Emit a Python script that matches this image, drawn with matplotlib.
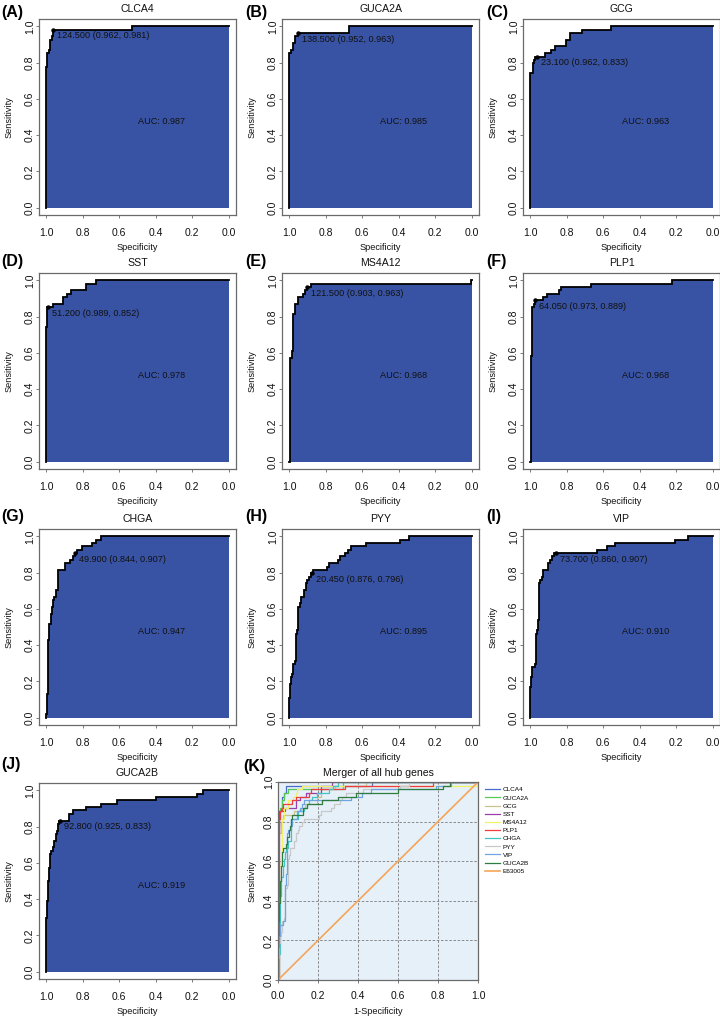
import numpy as np
import matplotlib
matplotlib.use("Agg")
from matplotlib import pyplot as plt

plt.rcParams['font.family'] = ['Liberation Sans', 'DejaVu Sans']

W, H = 720, 1017

genes = ['CLCA4', 'GUCA2A', 'GCG', 'SST', 'MS4A12', 'PLP1', 'CHGA', 'PYY', 'VIP', 'GUCA2B']
letters = ['(A)', '(B)', '(C)', '(D)', '(E)', '(F)', '(G)', '(H)', '(I)', '(J)']
auc = [0.987, 0.985, 0.963, 0.978, 0.968, 0.968, 0.947, 0.895, 0.910, 0.919]
thres = ['124.500', '138.500', '23.100', '51.200', '121.500', '64.050', '49.900', '20.450', '73.700', '92.800']
thres_spec = [0.962, 0.952, 0.962, 0.989, 0.903, 0.973, 0.844, 0.876, 0.860, 0.925]
thres_sens = [0.981, 0.963, 0.833, 0.852, 0.963, 0.889, 0.907, 0.796, 0.907, 0.833]

# ROC curves: at each specificity the curve rises to the given sensitivity
clca4_spec = [1.0, 0.995, 0.985, 0.978, 0.970, 0.962, 0.528]
clca4_sens = [0.778, 0.852, 0.870, 0.926, 0.944, 0.981, 1.0]
guca2a_spec = [1.0, 0.989, 0.978, 0.970, 0.952, 0.674]
guca2a_sens = [0.852, 0.870, 0.907, 0.944, 0.963, 1.0]
gcg_spec = [1.0, 0.985, 0.981, 0.973, 0.920, 0.885, 0.867, 0.805, 0.785, 0.715, 0.560]
gcg_sens = [0.741, 0.796, 0.815, 0.833, 0.852, 0.870, 0.889, 0.926, 0.963, 0.981, 1.0]
sst_spec = [1.0, 0.995, 0.965, 0.911, 0.889, 0.862, 0.783, 0.730]
sst_sens = [0.741, 0.852, 0.870, 0.907, 0.926, 0.944, 0.981, 1.0]
ms4a12_spec = [0.995, 0.985, 0.980, 0.970, 0.950, 0.925, 0.912, 0.903, 0.880, 0.003]
ms4a12_sens = [0.574, 0.611, 0.815, 0.870, 0.907, 0.926, 0.944, 0.963, 0.981, 1.0]
plp1_spec = [0.996, 0.993, 0.989, 0.980, 0.975, 0.929, 0.910, 0.843, 0.834, 0.665, 0.224]
plp1_sens = [0.584, 0.815, 0.852, 0.870, 0.889, 0.907, 0.926, 0.944, 0.963, 0.981, 1.0]
chga_spec = [1.0, 0.995, 0.989, 0.984, 0.976, 0.971, 0.965, 0.958, 0.949, 0.934, 0.898,
             0.871, 0.856, 0.844, 0.831, 0.807, 0.747, 0.725, 0.698]
chga_sens = [0.019, 0.130, 0.426, 0.519, 0.574, 0.611, 0.648, 0.667, 0.704, 0.815, 0.852,
             0.870, 0.889, 0.907, 0.926, 0.944, 0.963, 0.981, 1.0]
pyy_spec = [1.0, 0.996, 0.991, 0.984, 0.978, 0.971, 0.964, 0.956, 0.951, 0.944, 0.938, 0.920,
            0.911, 0.902, 0.893, 0.880, 0.869, 0.796, 0.783, 0.734, 0.720, 0.692, 0.680, 0.660,
            0.577, 0.392, 0.343]
pyy_sens = [0.111, 0.185, 0.222, 0.241, 0.296, 0.315, 0.463, 0.481, 0.611, 0.630, 0.667, 0.704,
            0.741, 0.759, 0.778, 0.796, 0.815, 0.833, 0.852, 0.870, 0.889, 0.907, 0.926, 0.944,
            0.963, 0.981, 1.0]
vip_spec = [1.0, 0.996, 0.991, 0.973, 0.967, 0.964, 0.958, 0.954, 0.949, 0.934, 0.929, 0.905,
            0.892, 0.880, 0.869, 0.636, 0.578, 0.536, 0.208, 0.137]
vip_sens = [0.167, 0.222, 0.278, 0.296, 0.463, 0.481, 0.537, 0.741, 0.759, 0.778, 0.815, 0.852,
            0.870, 0.889, 0.907, 0.926, 0.944, 0.963, 0.981, 1.0]
guca2b_spec = [1.0, 0.995, 0.989, 0.984, 0.978, 0.973, 0.962, 0.956, 0.947, 0.940, 0.934, 0.929,
               0.874, 0.856, 0.780, 0.698, 0.612, 0.400, 0.175, 0.142]
guca2b_sens = [0.296, 0.389, 0.500, 0.574, 0.648, 0.667, 0.685, 0.722, 0.759, 0.778, 0.815, 0.833,
               0.870, 0.889, 0.907, 0.926, 0.944, 0.963, 0.981, 1.0]

specs = [clca4_spec, guca2a_spec, gcg_spec, sst_spec, ms4a12_spec, plp1_spec,
         chga_spec, pyy_spec, vip_spec, guca2b_spec]
senss = [clca4_sens, guca2a_sens, gcg_sens, sst_sens, ms4a12_sens, plp1_sens,
         chga_sens, pyy_sens, vip_sens, guca2b_sens]

merge_labels = genes + ['E63005']
merge_colors = ['#4a6cc8', '#55c855', '#c9c08f', '#9b3fa8', '#f2f066', '#f03c3c',
                '#40c4c4', '#c8c8c8', '#6fa4e0', '#2e7d3e', '#f5a55a']

fill_col = '#3953a4'
txt = '#111111'


def stairs(spec, sens):
    xs, ys = [1.0], [0.0]
    prev = 0.0
    for s, t in zip(spec, sens):
        xs += [s, s]
        ys += [prev, t]
        prev = t
    xs.append(0.0)
    ys.append(prev)
    return np.array(xs), np.array(ys)


def box(l, t, w, h):
    return [l / W, 1 - (t + h) / H, w / W, h / H]


def ftext(x, y, s, **kw):
    fig.text(x / W, 1 - y / H, s, **kw)


fig = plt.figure(figsize=(W / 100, H / 100), dpi=100)

col_left = [39, 282, 523]
row_top = [19, 273, 529, 783]
letter_y = [12, 262, 517, 764]
letter_x = [1, 245, 486]
bw, bh = 197, 196

ticks = [0.0, 0.2, 0.4, 0.6, 0.8, 1.0]
tlabs = ['0.0', '0.2', '0.4', '0.6', '0.8', '1.0']

for i, g in enumerate(genes):
    r, c = divmod(i, 3)
    l, t = col_left[c], row_top[r]
    ax = fig.add_axes(box(l, t, bw, bh))
    xs, ys = stairs(specs[i], senss[i])
    ax.fill_between(xs, ys, 0, color=fill_col, lw=0)
    ax.plot(xs, ys, color='black', lw=1.3, solid_joinstyle='miter')
    ax.plot([thres_spec[i]], [thres_sens[i]], 'o', color='black', ms=2.2)
    ax.annotate('%s (%.3f, %.3f)' % (thres[i], thres_spec[i], thres_sens[i]),
                (thres_spec[i], thres_sens[i]), xytext=(3, -1.2), textcoords='offset points',
                ha='left', va='top', fontsize=6.6, color=txt)
    ax.text(0.5, 0.5, 'AUC: %.3f' % auc[i], ha='left', va='top', fontsize=6.6, color=txt)
    ax.set_xlim(1.04, -0.04)
    ax.set_ylim(-0.04, 1.04)
    ax.set_xticks(ticks)
    ax.set_xticklabels(tlabs)
    ax.set_yticks(ticks)
    ax.set_yticklabels(tlabs, rotation=90, va='center')
    ax.tick_params(axis='x', length=2, width=0.6, color='#666666', pad=7, labelsize=7.5, labelcolor=txt)
    ax.tick_params(axis='y', length=2, width=0.6, color='#666666', pad=1, labelsize=7.5, labelcolor=txt)
    for sp in ax.spines.values():
        sp.set_color('#6a6a6a')
        sp.set_linewidth(0.9)
    ax.text(0.5, -33 / bh, 'Specificity', transform=ax.transAxes, ha='center', va='center',
            fontsize=6.6, color=txt)
    ax.text(-30 / bw, 0.5, 'Sensitivity', transform=ax.transAxes, ha='center', va='center',
            rotation=90, fontsize=6.6, color=txt)
    ftext(l + bw / 2, t - 10, g, ha='center', va='center', fontsize=7.6, color=txt)
    ftext(letter_x[c], letter_y[r], letters[i], ha='left', va='center', fontsize=11.5,
          fontweight='bold', color='black')

# merged panel
kl, kt, kw, kh = 278, 782, 200, 198
ax = fig.add_axes(box(kl, kt, kw, kh))
ax.set_facecolor('#e6f0f9')
for v in [0.2, 0.4, 0.6, 0.8]:
    ax.axvline(v, color='#7a7a7a', lw=0.6, ls=(0, (3, 2)))
    ax.axhline(v, color='#7a7a7a', lw=0.6, ls=(0, (3, 2)))
for i, g in enumerate(genes):
    xs, ys = stairs(specs[i], senss[i])
    ax.plot(1 - xs, ys, color=merge_colors[i], lw=0.9, label=g)
ax.plot([0, 1], [0, 1], color=merge_colors[10], lw=1.2, label='E63005')
ax.set_xlim(0, 1)
ax.set_ylim(0, 1)
ax.set_xticks(ticks)
ax.set_xticklabels(tlabs)
ax.set_yticks(ticks)
ax.set_yticklabels(tlabs, rotation=90, va='center')
ax.tick_params(axis='x', length=2, width=0.6, color='#666666', pad=6, labelsize=7.5, labelcolor=txt)
ax.tick_params(axis='y', length=2, width=0.6, color='#666666', pad=1, labelsize=7.5, labelcolor=txt)
for sp in ax.spines.values():
    sp.set_color('#6a6a6a')
    sp.set_linewidth(0.9)
ax.text(0.5, -32 / kh, '1-Specificity', transform=ax.transAxes, ha='center', va='center',
        fontsize=6.6, color=txt)
ax.text(-26 / kw, 0.5, 'Sensitivity', transform=ax.transAxes, ha='center', va='center',
        rotation=90, fontsize=6.6, color=txt)
ftext(kl + kw / 2, kt - 9, 'Merger of all hub genes', ha='center', va='center', fontsize=7.6, color=txt)
ftext(243, 766, '(K)', ha='left', va='center', fontsize=11.5, fontweight='bold', color='black')
fig.legend(*ax.get_legend_handles_labels(), loc='upper left',
           bbox_to_anchor=(485 / W, 1 - 787 / H), frameon=False, fontsize=4.6,
           handlelength=2.3, handletextpad=0.5, labelspacing=0.42, borderaxespad=0, borderpad=0)

fig.savefig('out.png', dpi=100)
